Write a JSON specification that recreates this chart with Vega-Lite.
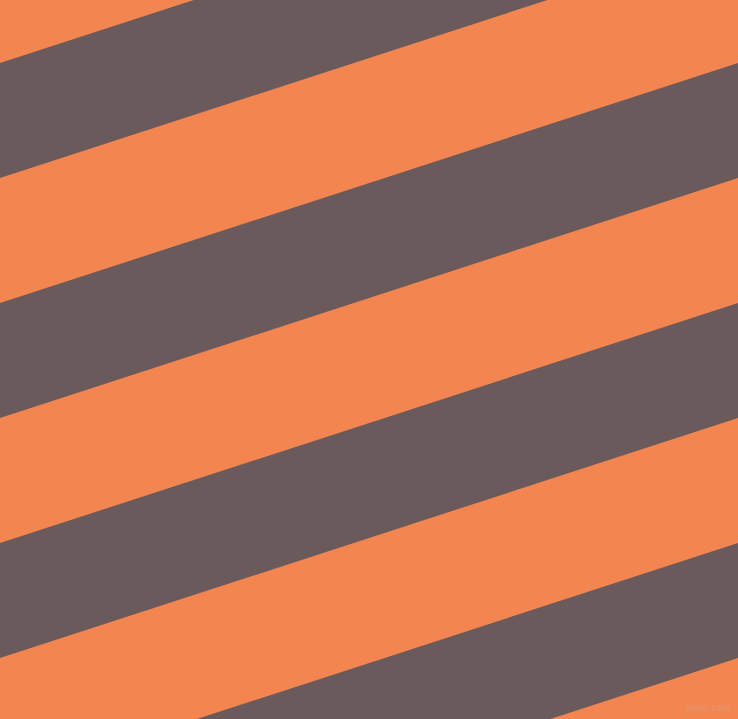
{
  "$schema": "https://vega.github.io/schema/vega-lite/v6.json",
  "width": 738,
  "height": 719,
  "autosize": {"type": "fit", "contains": "padding"},
  "padding": 0,
  "background": "#F38650",
  "config": {"view": {"stroke": null, "fill": "#F38650"}},
  "layer": [
    {
      "data": {"values": [
        {"band": 1, "x": 0, "top": 63, "bottom": 178},
        {"band": 1, "x": 738, "top": -177, "bottom": -62},
        {"band": 2, "x": 0, "top": 303, "bottom": 418},
        {"band": 2, "x": 738, "top": 63, "bottom": 178},
        {"band": 3, "x": 0, "top": 543, "bottom": 658},
        {"band": 3, "x": 738, "top": 303, "bottom": 418},
        {"band": 4, "x": 0, "top": 783, "bottom": 898},
        {"band": 4, "x": 738, "top": 543, "bottom": 658}
      ]},
      "mark": {"type": "area", "clip": true, "color": "#6B5A5B", "orient": "vertical"},
      "encoding": {
        "x": {"field": "x", "type": "quantitative", "scale": {"domain": [0, 738], "nice": false, "zero": false}, "axis": null},
        "y": {"field": "top", "type": "quantitative", "scale": {"domain": [0, 719], "reverse": true, "nice": false, "zero": false}, "axis": null},
        "y2": {"field": "bottom"},
        "detail": {"field": "band", "type": "nominal"}
      }
    },
    {
      "data": {"values": [{"label": "pixlis.com", "x": 731, "y": 708}]},
      "mark": {"type": "text", "align": "right", "baseline": "middle", "fontSize": 9, "font": "DejaVu Sans", "color": "#D99A78"},
      "encoding": {
        "x": {"field": "x", "type": "quantitative"},
        "y": {"field": "y", "type": "quantitative"},
        "text": {"field": "label"}
      }
    }
  ]
}
